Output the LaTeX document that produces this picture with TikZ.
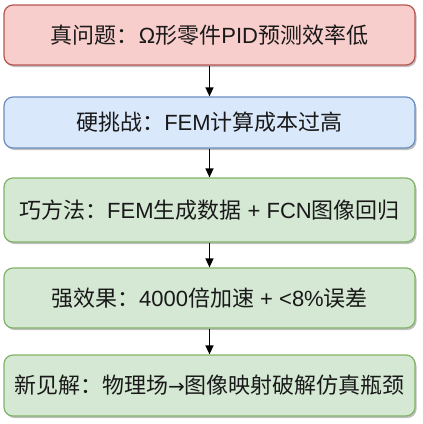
\documentclass[tikz,border=0pt]{standalone}
\usepackage{fontspec}
\setmainfont{Liberation Sans}
\newfontfamily\cjk{Noto Sans CJK SC}
\newfontfamily\djv{DejaVu Sans}
\usetikzlibrary{arrows.meta,shadows}
\definecolor{redfill}{HTML}{F8CECC}
\definecolor{redline}{HTML}{B85450}
\definecolor{bluefill}{HTML}{DAE8FC}
\definecolor{blueline}{HTML}{6C8EBF}
\definecolor{greenfill}{HTML}{D5E8D4}
\definecolor{greenline}{HTML}{82B366}
\tikzset{
  box/.style={rounded corners=9pt, draw, line width=1.2pt, minimum width=411pt,
    inner sep=0pt, font=\fontsize{22}{26}\selectfont, text=black!90,
    drop shadow={shadow xshift=1.5pt, shadow yshift=-2pt, opacity=0.25, fill=black}},
  redbox/.style={box, fill=redfill, draw=redline},
  bluebox/.style={box, fill=bluefill, draw=blueline},
  greenbox/.style={box, fill=greenfill, draw=greenline},
  arr/.style={-{Triangle[length=9pt,width=8pt]}, line width=1.4pt, black}
}
\begin{document}
\begin{tikzpicture}[x=1pt,y=1pt]
\useasboundingbox (0,0) rectangle (423,-424);
\node[redbox, minimum height=60pt] (b1) at (209.5,-35) {{\cjk 真问题：}Ω{\cjk 形零件}PID{\cjk 预测效率低}};
\node[bluebox, minimum height=51pt] (b2) at (209.5,-122.5) {{\cjk 硬挑战：}FEM{\cjk 计算成本过高}};
\node[greenbox, minimum height=64pt] (b3) at (209.5,-210) {{\cjk 巧方法：}FEM{\cjk 生成数据} + FCN{\cjk 图像回归}};
\node[greenbox, minimum height=60pt] (b4) at (209.5,-298) {{\cjk 强效果：}4000{\cjk 倍加速} + <8\%{\cjk 误差}};
\node[greenbox, minimum height=61pt] (b5) at (209.5,-385.5) {{\cjk 新见解：物理场}{\djv\fontsize{20}{26}\selectfont →}{\cjk 图像映射破解仿真瓶颈}};
\draw[arr] (b1.south) -- (b2.north);
\draw[arr] (b2.south) -- (b3.north);
\draw[arr] (b3.south) -- (b4.north);
\draw[arr] (b4.south) -- (b5.north);
\end{tikzpicture}
\end{document}
